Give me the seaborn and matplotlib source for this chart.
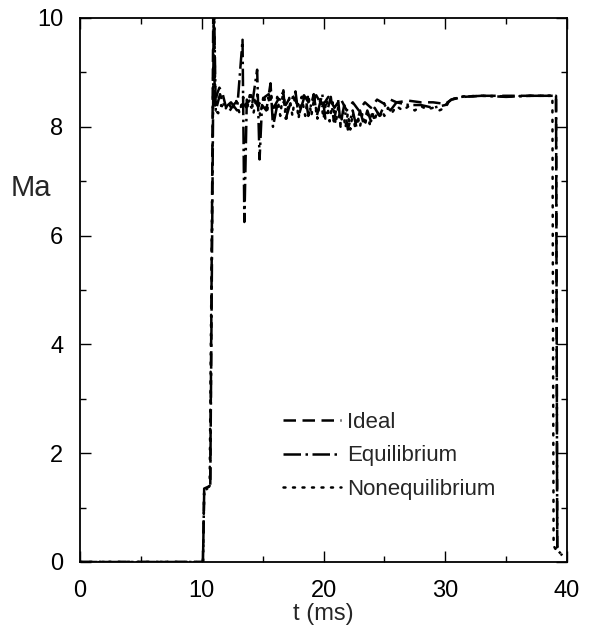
import matplotlib
matplotlib.use("Agg")
import matplotlib.pyplot as plt
import seaborn as sns
import pandas as pd
from matplotlib.ticker import MultipleLocator

# ---------------- data ----------------
t_ideal = [0, 10.1, 10.2, 10.7, 10.95, 11.08, 11.25, 11.45, 11.7, 12.0, 12.25, 12.6,
           13.0, 13.4, 13.8, 14.2, 14.6, 15.0, 15.5, 15.9, 16.4, 16.9, 17.4, 17.9,
           18.4, 18.9, 19.4, 19.9, 20.4, 20.9, 21.4, 21.9, 22.4, 22.9, 23.4, 23.9,
           24.4, 25.0, 25.5, 26.0, 27.0, 28.0, 29.0, 30.0, 30.5, 31.5, 33.0, 35.0,
           39.1, 39.2, 39.4, 39.6]
ma_ideal = [0, 0, 1.35, 1.4, 10.3, 8.4, 8.6, 8.72, 8.62, 8.35, 8.28, 8.4,
            8.5, 8.38, 8.45, 8.55, 8.38, 8.52, 8.6, 8.35, 8.55, 8.4, 8.6, 8.4,
            8.58, 8.4, 8.58, 8.38, 8.55, 8.35, 8.52, 8.3, 8.45, 8.3, 8.45, 8.35,
            8.5, 8.42, 8.5, 8.45, 8.48, 8.45, 8.45, 8.42, 8.5, 8.55, 8.57, 8.57,
            8.57, 0.25, 0.18, 0.12]

t_equil = [0, 10.1, 10.2, 10.7, 11.0, 11.15, 11.5, 11.9, 12.4, 12.9, 13.35, 13.5,
           13.7, 14.1, 14.55, 14.75, 14.95, 15.3, 15.65, 15.85, 16.2, 16.7, 16.9,
           17.3, 17.7, 17.95, 18.5, 18.75, 19.2, 19.45, 19.9, 20.15, 20.6, 20.85,
           21.2, 21.4, 21.7, 22.0, 22.4, 22.7, 23.0, 23.3, 23.6, 23.9, 24.2, 24.6,
           25.0, 25.5, 26.0, 27.0, 28.0, 29.0, 30.0, 30.5, 31.3, 33.0, 35.0, 37.0,
           39.1, 39.2, 39.3, 39.5]
ma_equil = [0, 0, 1.3, 1.4, 10.4, 8.3, 8.6, 8.35, 8.45, 8.3, 9.6, 6.25,
            8.5, 8.35, 9.05, 7.4, 8.4, 8.3, 8.8, 8.0, 8.4, 8.65, 8.15,
            8.45, 8.65, 8.2, 8.6, 8.2, 8.6, 8.2, 8.6, 8.15, 8.55, 8.1,
            8.5, 8.05, 8.4, 7.95, 8.3, 8.0, 8.3, 8.05, 8.3, 8.1, 8.35, 8.2,
            8.4, 8.3, 8.45, 8.4, 8.4, 8.35, 8.4, 8.5, 8.55, 8.57, 8.55, 8.57,
            8.57, 0.3, 0.2, 0.15]

t_noneq = [0, 10.1, 10.2, 10.65, 11.0, 11.12, 11.35, 11.6, 11.9, 12.2, 12.5, 12.8,
           13.1, 13.4, 13.7, 14.0, 14.25, 14.55, 14.8, 15.1, 15.35, 15.65, 15.9,
           16.2, 16.45, 16.7, 16.95, 17.2, 17.45, 17.7, 17.95, 18.2, 18.5, 18.75,
           19.0, 19.25, 19.5, 19.75, 20.0, 20.25, 20.5, 20.75, 21.0, 21.2, 21.4,
           21.6, 21.8, 22.0, 22.2, 22.4, 22.6, 22.8, 23.0, 23.2, 23.4, 23.6, 23.8,
           24.0, 24.2, 24.4, 24.6, 24.8, 25.0, 25.3, 25.6, 26.0, 26.5, 27.0, 27.5,
           28.0, 28.5, 29.0, 29.5, 30.0, 30.4, 30.8, 31.5, 33.0, 35.0, 37.0, 38.8,
           38.9, 39.1, 39.4]
ma_noneq = [0, 0, 1.3, 1.4, 10.5, 8.3, 8.25, 8.4, 8.3, 8.45, 8.3, 8.5,
            8.25, 8.55, 8.3, 8.65, 8.25, 8.6, 8.2, 8.6, 8.25, 8.7, 8.2,
            8.55, 8.2, 8.68, 8.15, 8.55, 8.2, 8.65, 8.15, 8.55, 8.2, 8.6,
            8.2, 8.55, 8.15, 8.55, 8.15, 8.5, 8.1, 8.45, 8.05, 8.35, 8.0,
            8.3, 7.98, 8.25, 7.95, 8.25, 7.98, 8.2, 8.0, 8.25, 8.02, 8.25, 8.05,
            8.28, 8.1, 8.3, 8.15, 8.3, 8.2, 8.35, 8.25, 8.38, 8.3, 8.38, 8.3,
            8.38, 8.32, 8.35, 8.3, 8.35, 8.5, 8.52, 8.56, 8.57, 8.56, 8.57, 8.57,
            0.3, 0.22, 0.18]

labels = ["Ideal", "Equilibrium", "Nonequilibrium"]
x_ticks = [0, 10, 20, 30, 40]
y_ticks = [0, 2, 4, 6, 8, 10]

# ---------------- plotting ----------------
sns.set_theme(style="ticks")
plt.rcParams["font.family"] = ["Liberation Sans", "DejaVu Sans"]

fig = plt.figure(figsize=(5.99, 6.32), dpi=100)
ax = fig.add_axes([80 / 599, 1 - 562 / 632, 487 / 599, 544 / 632])

frames = [
    pd.DataFrame({"t": t_ideal, "Ma": ma_ideal, "model": labels[0]}),
    pd.DataFrame({"t": t_equil, "Ma": ma_equil, "model": labels[1]}),
    pd.DataFrame({"t": t_noneq, "Ma": ma_noneq, "model": labels[2]}),
]
dash_list = [(5.0, 2.6), (7.0, 1.8, 1.0, 1.8), (0.8, 3.0)]
caps = ["butt", "butt", "round"]
LW = 1.8
for df, lab, ds, cap in zip(frames, labels, dash_list, caps):
    sns.lineplot(data=df, x="t", y="Ma", ax=ax, color="black", linewidth=LW,
                 sort=False, estimator=None, label=lab)
    ln = ax.get_lines()[-1]
    ln.set_dashes(ds)
    ln.set_dash_capstyle(cap)

ax.set_xlim(0, 40)
ax.set_ylim(0, 10)
ax.set_xticks(x_ticks)
ax.set_yticks(y_ticks)
ax.xaxis.set_minor_locator(MultipleLocator(5))
ax.yaxis.set_minor_locator(MultipleLocator(1))
ax.tick_params(which="both", direction="in", top=True, right=True,
               width=1.0, colors="black")
ax.tick_params(which="major", length=8, labelsize=17)
ax.tick_params(axis="x", which="major", pad=13)
ax.tick_params(axis="y", which="major", pad=12)
ax.tick_params(which="minor", length=4)
for sp in ax.spines.values():
    sp.set_linewidth(1.3)
    sp.set_color("black")

ax.set_xlabel("t (ms)", fontsize=17, labelpad=1)
ax.set_ylabel("")
fig.text(31 / 599, 1 - 188 / 632, "Ma", fontsize=21, ha="center", va="center")

leg = ax.legend(loc="center left", bbox_to_anchor=((283 - 80) / 487, (562 - 456) / 544),
                frameon=False, fontsize=16, handlelength=2.6, handletextpad=0.3,
                labelspacing=0.55, borderpad=0, borderaxespad=0)
for h, ds, cap in zip(leg.get_lines(), dash_list, caps):
    h.set_dashes(ds)
    h.set_dash_capstyle(cap)
    h.set_color("black")
    h.set_linewidth(LW)

fig.savefig("out.png", dpi=100)
